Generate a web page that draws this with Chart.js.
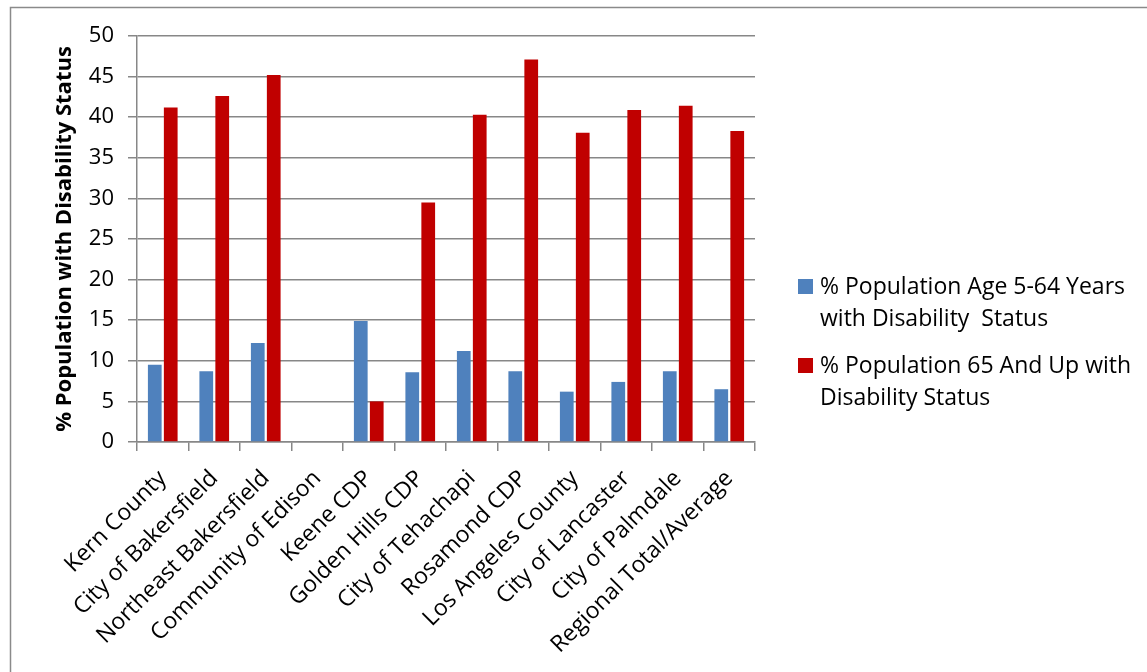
<!DOCTYPE html>
<html>
<head>
<meta charset="utf-8">
<script src="https://cdn.jsdelivr.net/npm/chart.js@4.4.0/dist/chart.umd.min.js"></script>
<style>
  html, body { margin: 0; padding: 0; background: #ffffff; }
  #wrap { width: 1147px; height: 672px; position: relative; }
</style>
</head>
<body>
<div id="wrap"><canvas id="chart" width="1147" height="672"></canvas></div>
<script>
// Places compared
const categories = [
  "Kern County", "City of Bakersfield", "Northeast Bakersfield", "Community of Edison",
  "Keene CDP", "Golden Hills CDP", "City of Tehachapi", "Rosamond CDP",
  "Los Angeles County", "City of Lancaster", "City of Palmdale", "Regional Total/Average"
];

// % of population with a disability, by age group (Edison has no data)
const age5to64 = [9.5, 8.7, 12.2, null, 14.9, 8.6, 11.2, 8.7, 6.2, 7.4, 8.7, 6.5];
const age65up  = [41.2, 42.6, 45.2, null, 5.0, 29.5, 40.3, 47.1, 38.1, 40.9, 41.4, 38.3];

// Series names, one entry per legend line
const seriesNames = [
  ["% Population Age 5-64 Years", "with Disability  Status"],
  ["% Population 65 And Up with", "Disability Status"]
];

// Value axis
const yAxisTitle = "% Population with Disability Status";
const yMin = 0, yMax = 50, yStep = 5;

const FONT = "'Open Sans', Lato, sans-serif";
const GRID = "#878787";

// Outer frame lines (left and top edges)
const framePlugin = {
  id: "frame",
  beforeDraw(chart) {
    const ctx = chart.ctx;
    ctx.save();
    ctx.fillStyle = "#ffffff";
    ctx.fillRect(0, 0, chart.width, chart.height);
    ctx.strokeStyle = "#8a8a8a";
    ctx.lineWidth = 1.5;
    ctx.beginPath();
    ctx.moveTo(10.5, chart.height);
    ctx.lineTo(10.5, 7.5);
    ctx.lineTo(chart.width, 7.5);
    ctx.stroke();
    ctx.restore();
  }
};

// Legend with wrapped entries on the right side
const sideLegend = {
  id: "sideLegend",
  afterDraw(chart) {
    const ctx = chart.ctx;
    ctx.save();
    ctx.font = "23px " + FONT;
    ctx.textBaseline = "alphabetic";
    ctx.textAlign = "left";
    const boxX = 798, textX = 820, lineGap = 32;
    const firstBaselines = [294, 373];
    chart.data.datasets.forEach((ds, i) => {
      const base = firstBaselines[i];
      ctx.fillStyle = ds.backgroundColor;
      ctx.fillRect(boxX, base - 15, 15, 15);
      ctx.fillStyle = "#000000";
      seriesNames[i].forEach((line, j) => {
        ctx.fillText(line, textX, base + j * lineGap);
      });
    });
    ctx.restore();
  }
};

new Chart(document.getElementById("chart"), {
  type: "bar",
  data: {
    labels: categories,
    datasets: [
      {
        label: seriesNames[0].join(" "),
        data: age5to64,
        backgroundColor: "#4F81BD",
        barPercentage: 0.86,
        categoryPercentage: 0.62
      },
      {
        label: seriesNames[1].join(" "),
        data: age65up,
        backgroundColor: "#C00000",
        barPercentage: 0.86,
        categoryPercentage: 0.62
      }
    ]
  },
  options: {
    responsive: false,
    animation: false,
    devicePixelRatio: 1,
    layout: { padding: { left: 40, top: 36, right: 392, bottom: 0 } },
    plugins: {
      legend: { display: false },
      tooltip: { enabled: false }
    },
    scales: {
      x: {
        grid: {
          drawOnChartArea: false,
          drawTicks: true,
          tickLength: 9,
          color: GRID,
          lineWidth: 1.5,
          offset: true
        },
        border: { color: GRID, width: 1.5 },
        ticks: {
          autoSkip: false,
          minRotation: 45,
          maxRotation: 45,
          padding: 14,
          color: "#000000",
          font: { family: FONT, size: 23 }
        },
        afterFit(scale) { scale.height = 230; }
      },
      y: {
        min: yMin,
        max: yMax,
        ticks: {
          stepSize: yStep,
          padding: 14,
          color: "#000000",
          font: { family: FONT, size: 22 }
        },
        grid: {
          color: GRID,
          lineWidth: 1.5,
          tickLength: 9
        },
        border: { color: GRID, width: 1.5 },
        title: {
          display: true,
          text: yAxisTitle,
          color: "#000000",
          font: { family: FONT, size: 22, weight: "bold" },
          padding: { top: 12, bottom: 0 }
        },
        afterFit(scale) { scale.width = 97; }
      }
    }
  },
  plugins: [framePlugin, sideLegend]
});
</script>
</body>
</html>
